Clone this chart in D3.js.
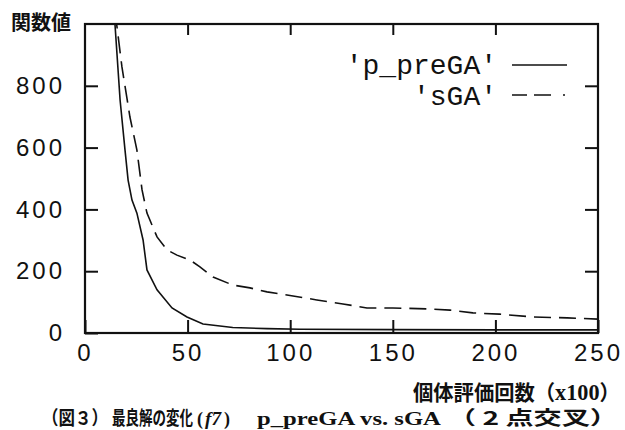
<!DOCTYPE html>
<html>
<head>
<meta charset="utf-8">
<script src="https://cdn.jsdelivr.net/npm/d3@7"></script>
<style>
body { margin: 0; background: #fff; }
.tick text { font-family: "Liberation Sans", Arial, sans-serif; font-size: 24px; letter-spacing: 3px; fill: #111; }
.tick line { stroke: #111; stroke-width: 2px; }
.domain { display: none; }
.cjk { font-family: "Noto Sans CJK JP", sans-serif; font-weight: bold; fill: #111; }
.serif { font-family: "Liberation Serif", serif; font-weight: bold; fill: #111; }
.mono { font-family: "Liberation Mono", "Courier New", monospace; fill: #111; }
</style>
</head>
<body>
<div class="chart"></div>
<script>
// evaluations (x100) and best value
var preGA_x = [13.5, 14.6, 17.1, 19.5, 21, 22.9, 25.3, 28.3, 30.2, 35.1, 42.4, 49.7, 57.5, 72, 88.7, 104.8, 150, 200, 250];
var preGA_y = [1080, 1000, 754, 592, 495, 430, 388, 301, 204, 140, 81, 52, 29, 18, 14, 12, 11, 10, 10];

var sGA_x = [14.6, 15.6, 18, 21.9, 25.3, 27.8, 30.2, 35.1, 40, 44.8, 51.2, 56, 62.4, 72.1, 80.4, 88.7, 98.4, 113, 125.7, 137.4, 150, 166.7, 177.9, 189, 202, 218, 235, 250];
var sGA_y = [1040, 990, 861, 699, 592, 463, 388, 311, 269, 252, 236, 214, 181, 155, 146, 133, 123, 107, 94, 81, 81, 78, 74, 65, 61, 52, 49, 45];

var xTicks = [0, 50, 100, 150, 200, 250];
var yTicks = [0, 200, 400, 600, 800];
var legendNames = ["'p_preGA'", "'sGA'"];

var x = d3.scaleLinear()
.domain([0, 250])
.range([85, 598])
;

var y = d3.scaleLinear()
.domain([0, 1000])
.range([333, 24])
;

var svg = d3
.select('div.chart')
.append('svg')
.attr('width', 625)
.attr('height', 430)
;

svg.append('clipPath')
.attr('id', 'plot')
.append('rect')
.attr('x', x(0))
.attr('y', y(1000))
.attr('width', x(250) - x(0))
.attr('height', y(0) - y(1000))
;

// axes, ticks pointing inward
svg.append('g')
.attr('transform', 'translate(0,' + y(0) + ')')
.call(d3.axisBottom(x).tickValues(xTicks).tickSize(-13).tickPadding(11))
;

svg.append('g')
.attr('transform', 'translate(' + x(0) + ',0)')
.call(d3.axisLeft(y).tickValues(yTicks).tickSize(-13).tickPadding(23))
.selectAll('text').attr('dx', '3px')
;

svg.append('g')
.attr('transform', 'translate(0,' + y(1000) + ')')
.call(d3.axisTop(x).tickValues([50, 100, 150, 200]).tickSize(-11).tickFormat(''))
;

svg.append('g')
.attr('transform', 'translate(' + x(250) + ',0)')
.call(d3.axisRight(y).tickValues([200, 400, 600, 800]).tickSize(-13).tickFormat(''))
;

svg.append('rect')
.attr('x', x(0))
.attr('y', y(1000))
.attr('width', x(250) - x(0))
.attr('height', y(0) - y(1000))
.attr('fill', 'none')
.attr('stroke', '#111')
.attr('stroke-width', 2.2)
;

var line = d3.line()
    .x(function(d){return x(d[0])})
    .y(function(d){return y(d[1])})
    ;

svg.append('path')
.datum(d3.zip(preGA_x, preGA_y))
.attr('clip-path', 'url(#plot)')
.attr('d', line)
.attr('fill', 'none')
.attr('stroke', '#111')
.attr('stroke-width', 1.6)
;

svg.append('path')
.datum(d3.zip(sGA_x, sGA_y))
.attr('clip-path', 'url(#plot)')
.attr('d', line)
.attr('fill', 'none')
.attr('stroke', '#111')
.attr('stroke-width', 1.6)
.attr('stroke-dasharray', '17,8')
;

// legend
var legend = svg.append('g');

legend.selectAll('text')
.data(legendNames)
.enter()
.append('text')
.attr('class', 'mono')
.attr('x', 497)
.attr('y', function(d, i){return 74 + i * 31})
.attr('text-anchor', 'end')
.style('font-size', '28px')
.text(function(d){return d})
;

legend.selectAll('line')
.data(legendNames)
.enter()
.append('line')
.attr('x1', 512)
.attr('x2', 567)
.attr('y1', function(d, i){return 65 + i * 30})
.attr('y2', function(d, i){return 65 + i * 30})
.attr('stroke', '#111')
.attr('stroke-width', 1.6)
.attr('stroke-dasharray', function(d, i){return i ? '15,7,17,12,2' : null})
;

// axis titles
svg.append('text')
.attr('class', 'cjk')
.attr('x', 11)
.attr('y', 30)
.style('font-size', '20px')
.text('関数値')
;

// squeeze a text horizontally so it spans w pixels from px
function fit(t, px, py, w) {
    var natural = t.node().getComputedTextLength();
    t.attr('transform', 'translate(' + px + ',' + py + ') scale(' + (w / natural) + ',1)');
}

var xt = svg.append('text')
.style('font-size', '21px')
;
xt.append('tspan').attr('class', 'cjk').text('個体評価回数（');
xt.append('tspan').attr('class', 'serif').style('font-size', '23px').text('x100');
xt.append('tspan').attr('class', 'cjk').text('）');
fit(xt, 413, 400, 207);

// caption, one piece at a time
function piece(px, w, cls, txt, italic) {
    var t = svg.append('text')
    .attr('class', cls)
    .style('font-size', '19px')
    .style('font-style', italic ? 'italic' : null)
    .text(txt)
    ;
    fit(t, px, 425, w);
}

piece(42, 66, 'cjk', '（図３）');
piece(112, 81, 'cjk', '最良解の変化');
piece(197, 6, 'serif', '(');
piece(205, 16, 'serif', 'f7', true);
piece(224, 6, 'serif', ')');
piece(257, 184, 'serif', 'p_preGA vs. sGA');
piece(448, 170, 'cjk', '（ 2 点交叉）');
</script>
</body>
</html>
